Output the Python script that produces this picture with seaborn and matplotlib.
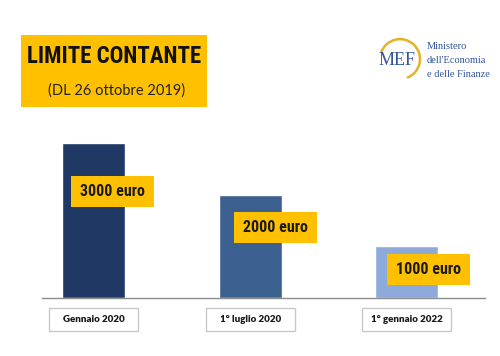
import numpy as np
import pandas as pd

import matplotlib
matplotlib.use("Agg")
import matplotlib.pyplot as plt
from matplotlib.patches import Rectangle, Arc
import seaborn as sns

# data
categories = ["Gennaio 2020", "1° luglio 2020", "1° gennaio 2022"]
limits = [3000, 2000, 1000]
value_labels = ["3000 euro", "2000 euro", "1000 euro"]
bar_colors = ["#1f3864", "#3b5f8f", "#8eaadb"]

title = "LIMITE CONTANTE"
subtitle = "(DL 26 ottobre 2019)"
logo_lines = ["Ministero", "dell'Economia", "e delle Finanze"]

YELLOW = "#ffc000"
LOGO_BLUE = "#34559a"
NARROW = ["Liberation Sans Narrow", "Roboto Condensed", "Lato", "DejaVu Sans"]
SERIF = ["Liberation Serif", "DejaVu Serif"]

df = pd.DataFrame({"periodo": categories, "limite": limits})

sns.set_theme(style="white")
plt.rcParams["font.family"] = ["Lato", "Open Sans", "DejaVu Sans"]

fig = plt.figure(figsize=(5, 3.56), dpi=100)
ax = fig.add_axes([0.084, 0.163, 0.886, 0.5])

sns.barplot(data=df, x="periodo", y="limite", hue="periodo",
            palette=bar_colors, width=0.4, saturation=1,
            legend=False, ax=ax)

ax.set_xlim(-0.33, 2.5)
ax.set_ylim(0, 3445)
ax.set_xlabel("")
ax.set_ylabel("")
ax.set_xticks([])
ax.set_yticks([])
for side in ["top", "left", "right"]:
    ax.spines[side].set_visible(False)
ax.spines["bottom"].set_color("#8c8c8c")
ax.spines["bottom"].set_linewidth(1.0)

# yellow value boxes (offset right of the bar, a bit below its top)
box_dx = [0.12, 0.16, 0.14]
box_drop = [940, 630, 450]
for i, (val, lab) in enumerate(zip(limits, value_labels)):
    cx = i + box_dx[i]
    cy = val - box_drop[i]
    ax.add_patch(Rectangle((cx - 0.265, cy - 300), 0.53, 600,
                           facecolor=YELLOW, edgecolor="none", zorder=3))
    ax.text(cx, cy, lab, ha="center", va="center", fontsize=11.5,
            fontweight="bold", family=NARROW, color="#1a1a1a", zorder=4)

# category boxes under the axis
trans = ax.get_xaxis_transform()
for i, cat in enumerate(categories):
    ax.add_patch(Rectangle((i - 0.285, -0.186), 0.57, 0.129, transform=trans,
                           facecolor="white", edgecolor="#c8c8c8",
                           linewidth=1.0, clip_on=False))
    ax.text(i, -0.121, cat, transform=trans, ha="center", va="center",
            fontsize=7, fontweight="heavy", color="#1a1a1a", clip_on=False)

# title block
fig.patches.append(Rectangle((0.042, 0.699), 0.372, 0.202,
                             transform=fig.transFigure, facecolor=YELLOW,
                             edgecolor="none", zorder=0))
fig.text(0.228, 0.84, title, ha="center", va="center", fontsize=16.5,
         fontweight="heavy", family=NARROW, color="#111111")
fig.text(0.234, 0.745, subtitle, ha="center", va="center", fontsize=10.5,
         color="#222222")

# MEF logo
fig.patches.append(Arc((0.8, 0.834), 0.08, 0.112, theta1=-75, theta2=155,
                       transform=fig.transFigure, color="#e6b12a", linewidth=1.8))
fig.text(0.794, 0.829, "MEF", ha="center", va="center", fontsize=13,
         family=SERIF, color=LOGO_BLUE)
for k, line in enumerate(logo_lines):
    fig.text(0.854, 0.868 - k * 0.039, line, ha="left", va="center",
             fontsize=7.5, family=SERIF, color=LOGO_BLUE)

fig.savefig("out.png", dpi=100)
